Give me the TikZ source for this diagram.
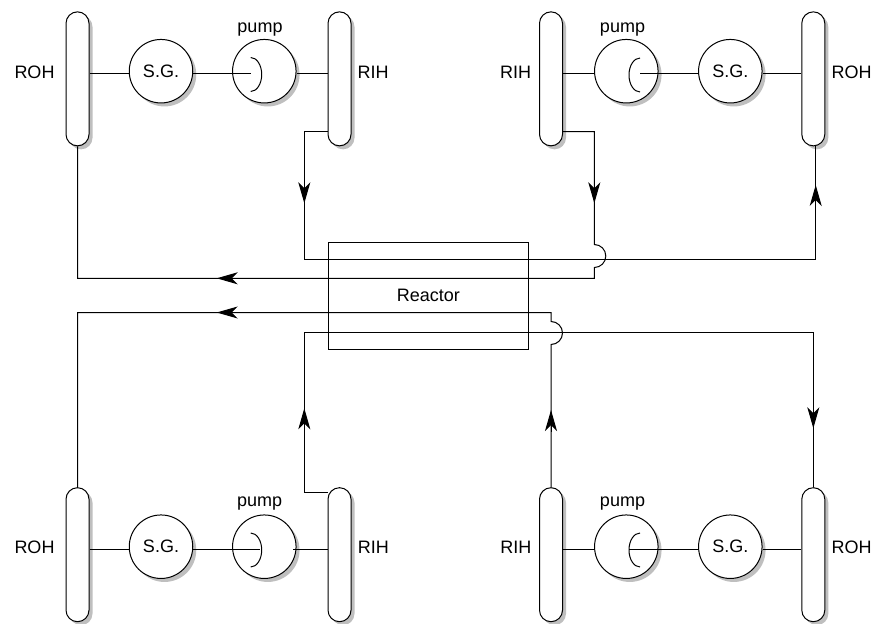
\documentclass[tikz,border=0pt]{standalone}
\usepackage{fontspec}
\setmainfont{Liberation Sans}
\usetikzlibrary{arrows.meta,shadows,calc}
\begin{document}
\begin{tikzpicture}[x=1pt,y=-1pt,line width=1pt,
  every node/.style={font=\fontsize{18}{22}\selectfont},
  header/.style={draw, fill=white, rectangle, rounded corners=11.5pt,
    minimum width=23pt, minimum height=134pt, inner sep=0pt,
    drop shadow={shadow xshift=3.5pt, shadow yshift=-3.5pt, fill=black!25, opacity=1}},
  unit/.style={draw, fill=white, circle, minimum size=63.5pt, inner sep=0pt,
    drop shadow={shadow xshift=3.5pt, shadow yshift=-3.5pt, fill=black!25, opacity=1}},
  lbl/.style={anchor=base, inner sep=0pt},
  flow/.style={-{Stealth[length=21pt, width=12pt, inset=6pt]}},
  pipe/.style={draw}]
\useasboundingbox (0,0) rectangle (874,623);

% ---------- top left loop ----------
\node[header] (rohTL) at (77.5,78.85) {};
\node[unit]   (sgTL)  at (161,71.2) {S.G.};
\node[unit]   (pumpTL) at (264.3,71.2) {};
\node[header] (rihTL) at (339.5,78.85) {};
\node[lbl] (tROHtl) at (34.5,78.3) {ROH};
\node[lbl] (tRIHtl) at (373,78.3) {RIH};
\node[lbl] (tPtl) at (260,32.3) {pump};

% ---------- top right loop ----------
\node[header] (rihTR) at (551,78.85) {};
\node[unit]   (pumpTR) at (626.3,71.2) {};
\node[unit]   (sgTR)  at (730.3,71.2) {S.G.};
\node[header] (rohTR) at (813.3,78.85) {};
\node[lbl] (tRIHtr) at (515.5,78.3) {RIH};
\node[lbl] (tROHtr) at (851.7,78.3) {ROH};
\node[lbl] (tPtr) at (622.5,32.3) {pump};

% ---------- bottom left loop ----------
\node[header] (rohBL) at (77.5,554.7) {};
\node[unit]   (sgBL)  at (161,546.7) {S.G.};
\node[unit]   (pumpBL) at (264.3,546.7) {};
\node[header] (rihBL) at (339.5,554.7) {};
\node[lbl] (tROHbl) at (34.5,553.3) {ROH};
\node[lbl] (tRIHbl) at (373.3,553.3) {RIH};
\node[lbl] (tPbl) at (259.7,506.7) {pump};

% ---------- bottom right loop ----------
\node[header] (rihBR) at (551,554.7) {};
\node[unit]   (pumpBR) at (626.3,546.7) {};
\node[unit]   (sgBR)  at (730.3,546.7) {S.G.};
\node[header] (rohBR) at (813.3,554.7) {};
\node[lbl] (tRIHbr) at (515.8,553.3) {RIH};
\node[lbl] (tROHbr) at (851.7,553.3) {ROH};
\node[lbl] (tPbr) at (622.5,506.7) {pump};

% ---------- reactor ----------
\node[draw, minimum width=200pt, minimum height=106.7pt, inner sep=0pt] (reactor) at (428.3,295.7) {Reactor};

% ---------- loop piping ----------
% top left
\draw (rohTL.east |- 0,74) -- (sgTL.west |- 0,74);
\draw (sgTL.east |- 0,74) -- (250.7,74);
\draw (250.7,57.5) arc[start angle=-90, end angle=90, x radius=11, y radius=17];
\draw (pumpTL.east |- 0,74) -- (rihTL.west |- 0,74);
% top right
\draw (rihTR.east |- 0,74) -- (pumpTR.west |- 0,74);
\draw (640,74) -- (sgTR.west |- 0,74);
\draw (640,58) arc[start angle=-90, end angle=-270, x radius=11, y radius=17];
\draw (sgTR.east |- 0,74) -- (rohTR.west |- 0,74);
% bottom left
\draw (rohBL.east |- 0,549) -- (sgBL.west |- 0,549);
\draw (sgBL.east |- 0,549) -- (260,549);
\draw (250.7,533) arc[start angle=-90, end angle=90, x radius=11, y radius=17];
\draw (293.3,549) -- (rihBL.west |- 0,549);
% bottom right
\draw (rihBR.east |- 0,549) -- (pumpBR.west |- 0,549);
\draw (629,549) -- (sgBR.west |- 0,549);
\draw (640,533) arc[start angle=-90, end angle=-270, x radius=11, y radius=17];
\draw (sgBR.east |- 0,549) -- (rohBR.west |- 0,549);

% ---------- reactor piping ----------
% A: top-left RIH -> top-right ROH
\draw (rihTL.west |- 0,131.7) -- (304.3,131.7) -- (304.3,259.3) -- (815.7,259.3) -- ($(rohTR.south)+(2.4,0)$);
% B: top-right RIH -> top-left ROH (hop)
\draw (rihTR.east |- 0,131.7) -- (594.3,131.7) -- (594.3,244.5)
  arc[start angle=-90, end angle=90, radius=11.5] -- (594.3,278.3) -- (77.5,278.3) -- (rohTL.south);
% C: bottom-right RIH -> bottom-left ROH (hop)
\draw (rihBR.north) -- (551,344.5)
  arc[start angle=90, end angle=-90, radius=11.5] -- (551,312.5) -- (77.5,312.5) -- (rohBL.north);
% D: bottom-left RIH -> bottom-right ROH
\draw (rihBL.west |- 0,492.7) -- (304.3,492.7) -- (304.3,332.3) -- (813.3,332.3) -- (rohBR.north);

% ---------- flow arrows ----------
\draw[flow] (304.3,181.7) -- (304.3,203.3);
\draw[flow] (815.7,206.7) -- (815.7,185);
\draw[flow] (594.3,181.7) -- (594.3,203.3);
\draw[flow] (238.3,278.3) -- (216.7,278.3);
\draw[flow] (238.3,312.5) -- (216.7,312.5);
\draw[flow] (551,431.7) -- (551,410);
\draw[flow] (304.3,430.7) -- (304.3,408.3);
\draw[flow] (813.3,406.7) -- (813.3,428.3);
\end{tikzpicture}
\end{document}
